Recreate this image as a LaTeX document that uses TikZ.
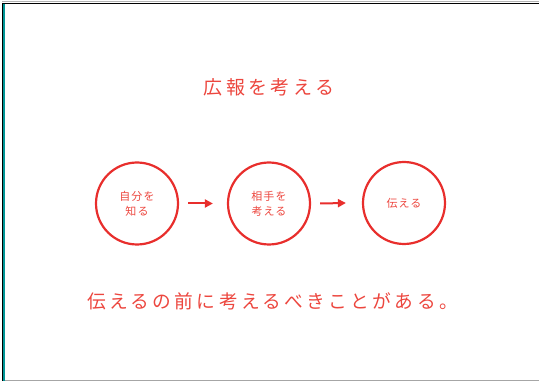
\documentclass[tikz,border=0pt]{standalone}
\usepackage{fontspec}
\newfontfamily\jpfontsp[LetterSpace=10]{Noto Sans CJK JP}
\newfontfamily\jpfontwide[LetterSpace=18]{Noto Sans CJK JP}
\definecolor{myred}{RGB}{232,46,44}
\definecolor{txtred}{RGB}{236,70,62}
\definecolor{teal}{RGB}{0,150,150}
\usetikzlibrary{arrows.meta}
\tikzset{
  stage/.style={circle, draw=myred, line width=2.2pt, minimum size=82pt, inner sep=0pt,
    text=txtred, font=\jpfontsp\fontsize{11}{15}\selectfont, align=center},
  flow/.style={-{Triangle[length=8pt,width=8pt]}, draw=myred, line width=2pt},
  bigtext/.style={text=txtred, inner sep=0pt}
}
\begin{document}
\begin{tikzpicture}[x=1pt,y=-1pt]
\useasboundingbox (0,0) rectangle (539,382);
% frame
\draw[gray!60, line width=1pt] (2,2) -- (539,2);
\draw[black, line width=1.2pt] (2,3.3) -- (539,3.3);
\draw[black, line width=1.2pt] (2.4,3) -- (2.4,381);
\draw[teal, line width=2pt] (4.2,4) -- (4.2,381);
\draw[gray!70, line width=1.5pt] (5,380.5) -- (539,380.5);
% title
\node[bigtext, font=\jpfontwide\fontsize{19}{22}\selectfont] (title) at (269,87) {広報を考える};
% circles
\node[stage] (c1) at (137,203.5) {自分を\\知る};
\node[stage] (c2) at (269,203.5) {相手を\\考える};
\node[stage] (c3) at (404,203) {伝える};
\draw[flow] ([xshift=9pt]c1.east) -- ([xshift=-14pt]c2.west);
\draw[flow] ([xshift=9pt]c2.east) -- ([xshift=-16pt]c3.west);
% bottom text
\node[bigtext, font=\jpfontwide\fontsize{18.7}{22}\selectfont] (msg) at (272.5,301) {伝えるの前に考えるべきことがある。};
\end{tikzpicture}
\end{document}
